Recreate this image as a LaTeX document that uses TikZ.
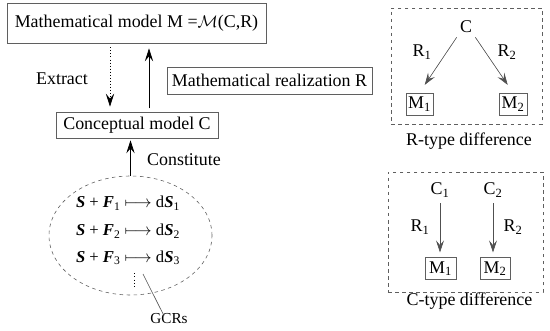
\documentclass[tikz,border=0pt]{standalone}
\usepackage{amsmath,amssymb}
\usepackage{fontspec}
\setmainfont{Liberation Serif}
\usetikzlibrary{arrows.meta,positioning,shapes.geometric}
\definecolor{boxgray}{RGB}{95,95,95}
\definecolor{linegray}{RGB}{80,80,80}
\newcommand{\bS}{\textbf{\textit{S}}}
\newcommand{\bF}{\textbf{\textit{F}}}

\begin{document}
\begin{tikzpicture}[
  x=0.03cm,y=-0.03cm,
  font=\fontsize{15.3}{18}\selectfont,
  box/.style={draw=boxgray,line width=0.6pt,inner sep=1pt,align=center},
  mbox/.style={draw=boxgray,line width=0.6pt,inner sep=1pt,minimum height=0.66cm},
  frame/.style={draw=boxgray,dashed,line width=0.5pt},
  arrow/.style={-{Stealth[length=3.9mm,width=2.5mm,inset=1.5mm]},line width=0.6pt},
  garrow/.style={-{Stealth[length=3.6mm,width=2.4mm,inset=1.4mm]},line width=0.5pt,draw=linegray,fill=linegray},
  lbl/.style={inner sep=1pt},
  rowfont/.style={font=\fontsize{14.2}{17}\selectfont}
]
\useasboundingbox (0,0) rectangle (550,331);
% left part
\node[box,minimum width=7.77cm,minimum height=1.2cm] (mmodel) at (136.5,23) {Mathematical model M =$\mathcal{M}$(C,R)};
\node[box,minimum width=4.86cm,minimum height=0.78cm] (concept) at (137,125) {Conceptual model C};
\node[box,minimum width=6.15cm,minimum height=0.81cm] (real) at (269.5,80.5) {Mathematical realization R};
\node[lbl] (extract) at (62,79) {Extract};
\coordinate (ex) at (110,0);
\coordinate (up) at (149,0);
\draw[arrow,dotted,shorten <=0.12cm] (mmodel.south -| ex) -- ([yshift=0.15cm]concept.north -| ex);
\draw[arrow,shorten >=0.15cm] ([yshift=0.1cm]concept.north -| up) -- (mmodel.south -| up);

\node[draw=boxgray,dashed,line width=0.5pt,ellipse,minimum width=4.89cm,minimum height=3.57cm] (gcr) at (130.5,235.5) {};
\node[lbl,rowfont] (rowa) at (128,203) {\bS{} + \bF\textsubscript{1} $\longmapsto$ d\bS\textsubscript{1}};
\node[lbl,rowfont] (rowb) at (128,231) {\bS{} + \bF\textsubscript{2} $\longmapsto$ d\bS\textsubscript{2}};
\node[lbl,rowfont] (rowc) at (128,258) {\bS{} + \bF\textsubscript{3} $\longmapsto$ d\bS\textsubscript{3}};
\draw[dotted,line width=0.8pt] (134,273) -- (134,287);
\draw[arrow] (gcr.north) -- ([yshift=-0.06cm]gcr.north |- concept.south);
\node[lbl] (constitute) at (184,160) {Constitute};
\node[lbl,font=\fontsize{13}{15}\selectfont] (gcrs) at (169,319) {GCRs};
\coordinate (gcrtip) at (143,274);
\draw[linegray,line width=0.5pt] (gcrtip) -- ([xshift=-0.15cm,yshift=-0.1cm]gcrs.north);

% R-type difference
\node[frame,minimum width=4.53cm,minimum height=3.48cm] (rframe) at (466.5,66) {};
\node[lbl] (rc) at (466,27) {C};
\node[mbox,minimum width=0.81cm] (rma) at (419.5,104) {M\textsubscript{1}};
\node[mbox,minimum width=0.84cm] (rmb) at (513,104) {M\textsubscript{2}};
\draw[garrow,shorten <=3pt,shorten >=8pt] (rc.south west) -- (rma.north);
\draw[garrow,shorten <=3pt,shorten >=8pt] (rc.south east) -- (rmb.north);
\node[lbl] (rra) at (422,52) {R\textsubscript{1}};
\node[lbl] (rrb) at (507,52) {R\textsubscript{2}};
\node[lbl] (rtype) at (469,141) {R-type difference};

% C-type difference
\node[frame,minimum width=4.65cm,minimum height=3.6cm] (cframe) at (465.5,232) {};
\node[lbl] (cca) at (440,190) {C\textsubscript{1}};
\node[lbl] (ccb) at (493,190) {C\textsubscript{2}};
\node[mbox,minimum width=0.93cm] (cma) at (440.5,268.5) {M\textsubscript{1}};
\node[mbox,minimum width=0.9cm] (cmb) at (495,268.5) {M\textsubscript{2}};
\draw[garrow,shorten <=4pt,shorten >=4pt] (cca) -- (cca |- cma.north);
\draw[garrow,shorten <=4pt,shorten >=4pt] (ccb) -- (ccb |- cmb.north);
\node[lbl] (cra) at (420,227) {R\textsubscript{1}};
\node[lbl] (crb) at (513,227) {R\textsubscript{2}};
\node[lbl] (ctype) at (469.5,301) {C-type difference};
\end{tikzpicture}
\end{document}
